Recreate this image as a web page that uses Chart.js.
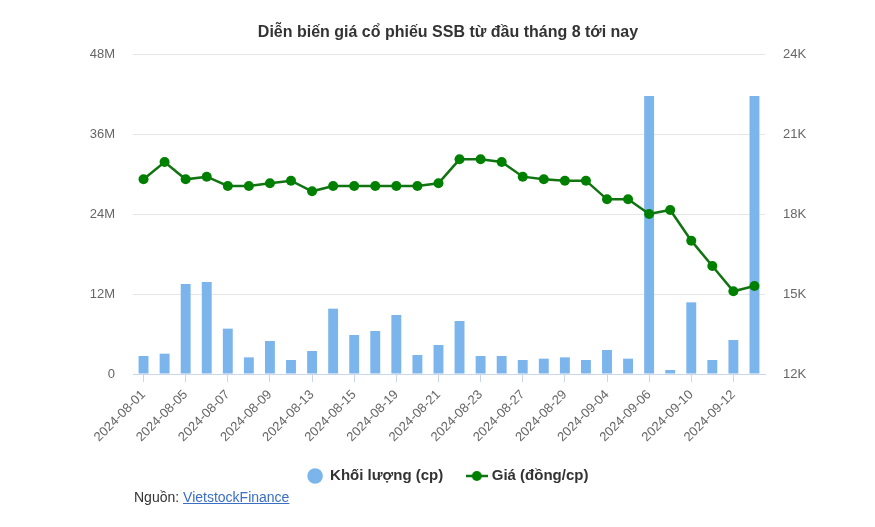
<!DOCTYPE html>
<html>
<head>
<meta charset="utf-8">
<script src="https://cdn.jsdelivr.net/npm/chart.js@4/dist/chart.umd.min.js"></script>
<style>
  html, body { margin: 0; padding: 0; background: #fff; }
  #wrap { position: relative; width: 875px; height: 527px; }
  #c { position: absolute; left: 0; top: 0; }
  #src { position: absolute; left: 134px; top: 489px; font-family: "Liberation Sans", Arial, sans-serif; font-size: 14px; color: #333; }
  #src a { color: #3a6fc4; text-decoration: underline; }
</style>
</head>
<body>
<div id="wrap">
  <canvas id="c" width="875" height="527"></canvas>
  <div id="src">Nguồn: <a href="#">VietstockFinance</a></div>
</div>
<script>
const dates = [
  '2024-08-01','2024-08-02','2024-08-05','2024-08-06','2024-08-07','2024-08-08','2024-08-09',
  '2024-08-12','2024-08-13','2024-08-14','2024-08-15','2024-08-16','2024-08-19','2024-08-20',
  '2024-08-21','2024-08-22','2024-08-23','2024-08-26','2024-08-27','2024-08-28','2024-08-29',
  '2024-08-30','2024-09-04','2024-09-05','2024-09-06','2024-09-09','2024-09-10','2024-09-11',
  '2024-09-12','2024-09-13'
];
const volume = [
  2700000, 3050000, 13500000, 13800000, 6800000, 2500000, 4950000,
  2100000, 3450000, 9800000, 5850000, 6450000, 8850000, 2850000,
  4350000, 7950000, 2700000, 2700000, 2100000, 2300000, 2500000,
  2100000, 3600000, 2300000, 41700000, 600000, 10750000, 2100000,
  5100000, 41700000
];
const price = [
  19300, 19950, 19300, 19400, 19050, 19050, 19150,
  19250, 18850, 19050, 19050, 19050, 19050, 19050,
  19150, 20050, 20050, 19950, 19400, 19300, 19250,
  19250, 18550, 18550, 18000, 18150, 17000, 16050,
  15100, 15300
];
const volumeTicks = [0, 12000000, 24000000, 36000000, 48000000];
const priceTicks = [12000, 15000, 18000, 21000, 24000];
const titleText = 'Diễn biến giá cổ phiếu SSB từ đầu tháng 8 tới nay';
const seriesNames = ['Khối lượng (cp)', 'Giá (đồng/cp)'];

const FONT = '"Liberation Sans", Arial, sans-serif';
const BAR = '#7cb5ec';
const LINE = '#127312';
const PT = '#008000';

// legend symbol for the line series: a short line with a dot
const lineSym = document.createElement('canvas');
lineSym.width = 22; lineSym.height = 12;
(function(){
  const g = lineSym.getContext('2d');
  g.strokeStyle = LINE; g.lineWidth = 2.5;
  g.beginPath(); g.moveTo(0, 6); g.lineTo(22, 6); g.stroke();
  g.fillStyle = PT; g.beginPath(); g.arc(11, 6, 5, 0, Math.PI * 2); g.fill();
})();

Chart.defaults.font.family = FONT;
Chart.defaults.color = '#666';

new Chart(document.getElementById('c'), {
  data: {
    labels: dates,
    datasets: [
      {
        type: 'bar', label: seriesNames[0], data: volume, yAxisID: 'yv',
        backgroundColor: BAR, borderWidth: 0, barPercentage: 0.47, categoryPercentage: 1, order: 2
      },
      {
        type: 'line', label: seriesNames[1], data: price, yAxisID: 'yp',
        borderColor: LINE, borderWidth: 2.5, pointRadius: 5, pointBackgroundColor: PT,
        pointBorderColor: PT, pointBorderWidth: 0, tension: 0, order: 1
      }
    ]
  },
  options: {
    responsive: false,
    animation: false,
    layout: { padding: { left: 21, right: 0, top: 0, bottom: 33.5 } },
    plugins: {
      title: {
        display: true, text: titleText, color: '#333',
        font: { size: 16, weight: 'bold', family: FONT },
        padding: { top: 23.4, bottom: 11.4 }
      },
      legend: {
        position: 'bottom',
        labels: {
          color: '#333', font: { size: 15, weight: 'bold', family: FONT },
          usePointStyle: true, padding: 26, boxHeight: 11,
          sort: (a, b) => a.datasetIndex - b.datasetIndex,
          generateLabels: (chart) => chart.data.datasets.map((ds, i) => ({
            text: ds.label, datasetIndex: i, fontColor: '#333',
            fillStyle: ds.type === 'bar' ? BAR : PT, strokeStyle: ds.type === 'bar' ? BAR : PT,
            lineWidth: 0, hidden: false,
            pointStyle: ds.type === 'bar' ? 'circle' : lineSym
          }))
        }
      },
      tooltip: { enabled: false }
    },
    scales: {
      x: {
        type: 'category', offset: true,
        afterFit: (s) => { s.height = 68.5; },
        grid: {
          drawOnChartArea: false, drawTicks: true, tickLength: 8, offset: false,
          tickColor: (ctx) => (ctx.index % 2 === 0 ? '#ccd6eb' : 'rgba(0,0,0,0)')
        },
        border: { display: true, color: '#ccd6eb', width: 1 },
        ticks: {
          autoSkip: false, maxRotation: 45, minRotation: 45, padding: 5,
          font: { size: 13, family: FONT }, color: '#666',
          callback: function(v, i) { return i % 2 === 0 ? dates[i] : ''; }
        }
      },
      yv: {
        type: 'linear', position: 'left', min: 0, max: 48000000,
        afterFit: (s) => { s.width = 112; },
        afterBuildTicks: (s) => { s.ticks = volumeTicks.map(v => ({ value: v })); },
        grid: { color: '#e6e6e6', drawTicks: false, lineWidth: 1 },
        border: { display: false },
        ticks: {
          padding: 18, font: { size: 13, family: FONT }, color: '#666',
          callback: (v) => (v === 0 ? '0' : (v / 1000000) + 'M')
        }
      },
      yp: {
        type: 'linear', position: 'right', min: 12000, max: 24000,
        afterFit: (s) => { s.width = 110; },
        afterBuildTicks: (s) => { s.ticks = priceTicks.map(v => ({ value: v })); },
        grid: { drawOnChartArea: false, drawTicks: false },
        border: { display: false },
        ticks: {
          padding: 18, font: { size: 13, family: FONT }, color: '#666',
          callback: (v) => (v / 1000) + 'K'
        }
      }
    }
  }
});
</script>
</body>
</html>
